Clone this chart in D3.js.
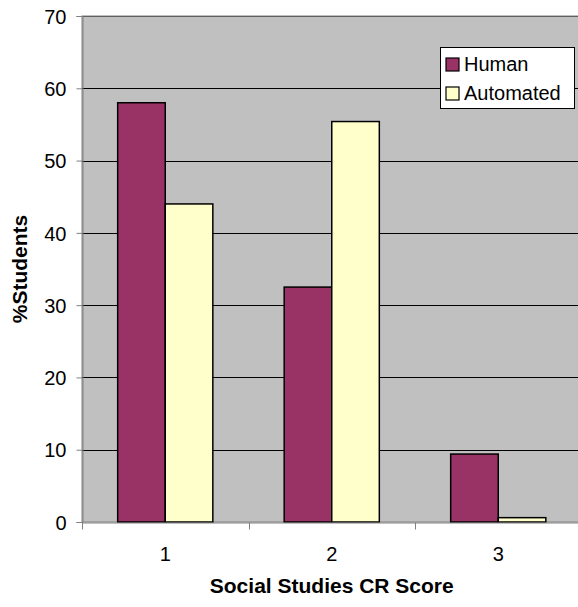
<!DOCTYPE html>
<html>
<head>
<meta charset="utf-8">
<script src="https://cdn.jsdelivr.net/npm/d3@7"></script>
<style>
  body { margin: 0; background: #fff; }
  text { font-family: "Liberation Sans", Arial, sans-serif; fill: #000; }
</style>
</head>
<body>
<script>
// Chart size
var w = 578;
var h = 607;

// Data
var categories = ["1", "2", "3"];
var seriesNames = ["Human", "Automated"];
var human = [58.0, 32.5, 9.4];
var automated = [44.0, 55.4, 0.6];
var yTicks = [0, 10, 20, 30, 40, 50, 60, 70];
var colors = ["#993366", "#FFFFCC"];

// Plot area (right edge runs past the picture, like the original)
var plotLeft = 82, plotTop = 16, plotRight = 581.5, plotBottom = 522;

var svg = d3.select("body")
    .append("svg")
    .attr("width", w)
    .attr("height", h);

// Scales
var xScale = d3.scaleBand()
    .domain(categories)
    .range([plotLeft, plotRight]);

var inner = d3.scaleBand()
    .domain(seriesNames)
    .range([0, xScale.bandwidth()])
    .paddingInner(0)
    .paddingOuter(0.75);

var yScale = d3.scaleLinear()
    .domain([0, 70])
    .range([plotBottom, plotTop]);

// Gray plot background
svg.append("rect")
    .attr("x", plotLeft)
    .attr("y", plotTop)
    .attr("width", plotRight - plotLeft)
    .attr("height", plotBottom - plotTop)
    .attr("fill", "#C0C0C0")
    .attr("stroke", "#808080")
    .attr("stroke-width", 1);

// Gridlines
svg.selectAll(".grid")
    .data(yTicks.slice(1))
    .enter()
    .append("line")
    .attr("x1", plotLeft)
    .attr("x2", plotRight)
    .attr("y1", function(d) { return Math.round(yScale(d)) + 0.5; })
    .attr("y2", function(d) { return Math.round(yScale(d)) + 0.5; })
    .attr("stroke", function(d) { return d === 70 ? "#606060" : "#000"; })
    .attr("stroke-width", 1);

// Bars
var rows = categories.map(function(c, i) {
    return [
        {cat: c, name: seriesNames[0], value: human[i], color: colors[0]},
        {cat: c, name: seriesNames[1], value: automated[i], color: colors[1]}
    ];
});

svg.selectAll(".group")
    .data(rows)
    .enter()
    .append("g")
    .attr("transform", function(d) { return "translate(" + xScale(d[0].cat) + ",0)"; })
    .selectAll("rect")
    .data(function(d) { return d; })
    .enter()
    .append("rect")
    .attr("x", function(d) { return inner(d.name); })
    .attr("y", function(d) { return yScale(d.value); })
    .attr("width", inner.bandwidth())
    .attr("height", function(d) { return plotBottom - yScale(d.value); })
    .attr("fill", function(d) { return d.color; })
    .attr("stroke", "#000")
    .attr("stroke-width", 1.5);

// Y axis
var yAxis = d3.axisLeft(yScale)
    .tickValues(yTicks)
    .tickSize(6)
    .tickPadding(10);
var yG = svg.append("g")
    .attr("transform", "translate(" + (plotLeft + 0.5) + ",0)")
    .call(yAxis);
yG.select(".domain").attr("stroke", "#808080");
yG.selectAll(".tick line").attr("stroke", "#808080");
yG.selectAll(".tick text")
    .attr("font-size", "20px")
    .attr("font-family", "Liberation Sans, Arial, sans-serif")
    .attr("dy", "0.36em");

// X axis
var xAxis = d3.axisBottom(xScale)
    .tickSize(0)
    .tickPadding(24);
var xG = svg.append("g")
    .attr("transform", "translate(0," + (plotBottom + 0.5) + ")")
    .call(xAxis);
xG.select(".domain").attr("stroke", "#808080");
xG.selectAll(".tick text")
    .attr("font-size", "20px")
    .attr("font-family", "Liberation Sans, Arial, sans-serif");

// Category separator ticks
xG.selectAll(".sep")
    .data(categories.concat(["end"]))
    .enter()
    .append("line")
    .attr("class", "sep")
    .attr("x1", function(d, i) { return Math.round(plotLeft + i * xScale.bandwidth()) + 0.5; })
    .attr("x2", function(d, i) { return Math.round(plotLeft + i * xScale.bandwidth()) + 0.5; })
    .attr("y1", 0)
    .attr("y2", 7)
    .attr("stroke", "#808080");

// Axis titles
svg.append("text")
    .attr("x", (plotLeft + plotRight) / 2)
    .attr("y", 593)
    .attr("text-anchor", "middle")
    .attr("font-size", "21px")
    .attr("font-weight", "bold")
    .text("Social Studies CR Score");

svg.append("text")
    .attr("transform", "translate(27," + 269 + ") rotate(-90)")
    .attr("text-anchor", "middle")
    .attr("font-size", "21px")
    .attr("font-weight", "bold")
    .text("%Students");

// Legend
var legend = svg.append("g").attr("transform", "translate(440,47)");
legend.append("rect")
    .attr("x", 0.5)
    .attr("y", 0.5)
    .attr("width", 134)
    .attr("height", 61)
    .attr("fill", "#fff")
    .attr("stroke", "#000");

var items = legend.selectAll(".item")
    .data(seriesNames)
    .enter()
    .append("g")
    .attr("transform", function(d, i) { return "translate(6," + (11 + i * 29) + ")"; });

items.append("rect")
    .attr("width", 13)
    .attr("height", 13)
    .attr("fill", function(d, i) { return colors[i]; })
    .attr("stroke", "#000")
    .attr("stroke-width", 1.2);

items.append("text")
    .attr("x", 18)
    .attr("y", 13)
    .attr("font-size", "20px")
    .text(function(d) { return d; });
</script>
</body>
</html>
